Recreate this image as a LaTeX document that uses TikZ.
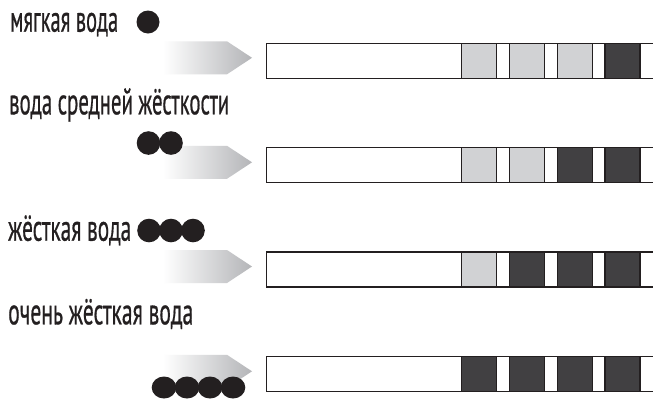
\documentclass[tikz,border=0pt]{standalone}
\usepackage{fontspec}
\setmainfont{PT Sans}
\newfontfamily\lblfont{PT Sans}[FakeBold=0.8]
\usepackage{graphicx}
\definecolor{ink}{HTML}{231F20}
\definecolor{lightsq}{HTML}{D1D2D4}
\definecolor{darksq}{HTML}{414042}
\definecolor{arrowgray}{HTML}{B4B5B8}
\tikzset{
  stripline/.style={draw=ink, line width=1.2pt},
  lbl/.style={anchor=base west, inner sep=0pt, text=ink, font=\lblfont\fontsize{37}{38}\selectfont},
  dotfill/.style={fill=ink},
  arrowshade/.style={left color=white, right color=arrowgray},
}
\newcommand\hrow[5]{%
  \shade[arrowshade] (163,#1-2) -- (227,#1-2) -- (252,#1+14.5) -- (227,#1+31) -- (163,#1+31) -- cycle;
  \draw[stripline] (653,#1) -- (266.7,#1) -- (266.7,#1+35) -- (653,#1+35);
  \filldraw[stripline, fill=#2] (461.7,#1) rectangle ++(35,35);
  \filldraw[stripline, fill=#3] (509.3,#1) rectangle ++(35,35);
  \filldraw[stripline, fill=#4] (557.3,#1) rectangle ++(35,35);
  \filldraw[stripline, fill=#5] (605,#1) rectangle ++(35,35);
}
\begin{document}
\begin{tikzpicture}[x=1pt,y=-1pt]
\useasboundingbox (0,0) rectangle (653,408);
\fill[white] (0,0) rectangle (653,408);
% rows
\hrow{43.3}{lightsq}{lightsq}{lightsq}{darksq}
\hrow{147.8}{lightsq}{lightsq}{darksq}{darksq}
\hrow{252}{lightsq}{darksq}{darksq}{darksq}
\hrow{356.8}{darksq}{darksq}{darksq}{darksq}
% labels
\node[lbl] (t1) at (10,31.7) {\resizebox{108pt}{\height}{мягкая вода}};
\node[lbl] (t2) at (9,114.3) {\resizebox{220pt}{\height}{вода средней жёсткости}};
\node[lbl] (t3) at (8,240.7) {\resizebox{123pt}{\height}{жёсткая вода}};
\node[lbl] (t4) at (8,324.3) {\resizebox{185pt}{\height}{очень жёсткая вода}};
% dots
\fill[dotfill] (148,22) circle (11.5);
\fill[dotfill] (148.5,143) circle (11.8);
\fill[dotfill] (171,143) circle (11.8);
\fill[dotfill] (149,230.5) circle (11.8);
\fill[dotfill] (171,230.5) circle (11.8);
\fill[dotfill] (193,230.5) circle (11.8);
\fill[dotfill] (164,387.5) ellipse (12.3 and 11);
\fill[dotfill] (187,387.5) ellipse (12.3 and 11);
\fill[dotfill] (210,387.5) ellipse (12.3 and 11);
\fill[dotfill] (233,387.5) ellipse (12.3 and 11);
\end{tikzpicture}
\end{document}
